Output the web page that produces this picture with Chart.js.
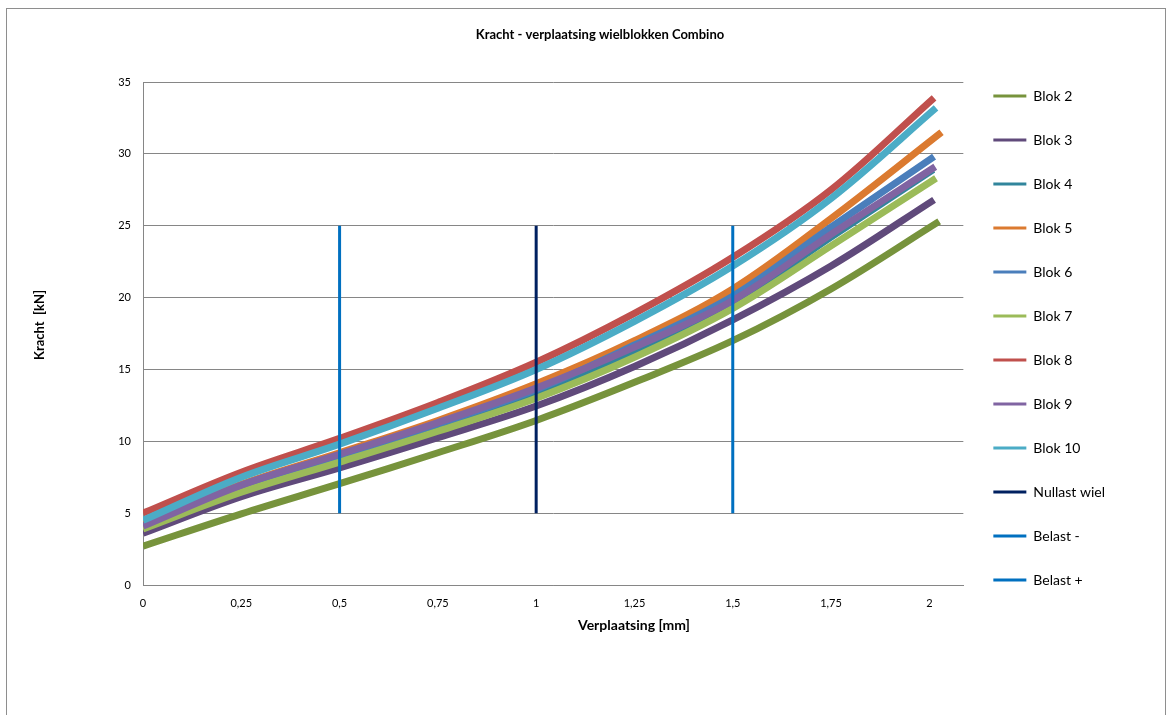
<!DOCTYPE html>
<html>
<head>
<meta charset="utf-8">
<script src="https://cdn.jsdelivr.net/npm/chart.js@4/dist/chart.umd.min.js"></script>
<style>
  html, body { margin: 0; padding: 0; background: #fff; }
  #wrap { position: relative; width: 1169px; height: 715px; overflow: hidden; }
  #rand { position: absolute; left: 6px; top: 8px; width: 1158px; height: 720px; border: 1px solid #8e8e8e; pointer-events: none; }
</style>
</head>
<body>
<div id="wrap">
  <canvas id="grafiek" width="1169" height="715"></canvas>
  <div id="rand"></div>
</div>
<script>
// teksten
const titel = 'Kracht - verplaatsing wielblokken Combino';
const xTitel = 'Verplaatsing [mm]';
const yTitel = 'Kracht  [kN]';

const verplaatsing = [0, 0.25, 0.5, 0.75, 1, 1.25, 1.5, 1.75];
const blokNamen = ['Blok 2', 'Blok 3', 'Blok 4', 'Blok 5', 'Blok 6', 'Blok 7', 'Blok 8', 'Blok 9', 'Blok 10'];
const eindVerplaatsing = [2.025, 2.012, 2.010, 2.031, 2.012, 2.017, 2.012, 2.015, 2.017];

const blok2  = [2.7, 4.95, 7.05, 9.2, 11.45, 14.1, 17.0, 20.6, 25.3];
const blok3  = [3.6, 6.15, 8.15, 10.25, 12.45, 15.2, 18.45, 22.2, 26.8];
const blok4  = [3.95, 6.8, 8.9, 11.0, 13.4, 16.3, 19.6, 24.2, 28.9];
const blok5  = [4.2, 7.0, 9.2, 11.45, 14.0, 17.0, 20.6, 25.5, 31.5];
const blok6  = [4.0, 6.85, 9.0, 11.2, 13.6, 16.7, 20.1, 24.9, 29.8];
const blok7  = [3.9, 6.45, 8.55, 10.7, 13.0, 15.85, 19.25, 23.6, 28.3];
const blok8  = [5.0, 7.85, 10.2, 12.7, 15.5, 18.9, 22.8, 27.5, 33.9];
const blok9  = [4.1, 6.95, 9.1, 11.3, 13.7, 16.55, 19.8, 24.4, 29.1];
const blok10 = [4.5, 7.5, 9.8, 12.3, 15.0, 18.35, 22.2, 26.9, 33.2];
const blokWaarden = [blok2, blok3, blok4, blok5, blok6, blok7, blok8, blok9, blok10];
const blokKleuren = ['#77933C', '#604A7B', '#31859C', '#DB7A30', '#4A7EBB', '#9BBB59', '#C0504D', '#8064A2', '#4BACC6'];

// verticale referentielijnen
const lijnNamen = ['Nullast wiel', 'Belast -', 'Belast +'];
const lijnX = [1, 0.5, 1.5];
const lijnY = [5, 25];
const lijnKleuren = ['#002060', '#0070C0', '#0070C0'];

// as-indeling
const xTicks = [0, 0.25, 0.5, 0.75, 1, 1.25, 1.5, 1.75, 2];
const xMax = 2.0865;
const yMax = 35;
const yStap = 5;

Chart.defaults.font.family = 'Lato, "Open Sans", sans-serif';
Chart.defaults.color = '#000';

const datasets = [];
blokWaarden.forEach((reeks, i) => {
  const xs = verplaatsing.concat([eindVerplaatsing[i]]);
  datasets.push({
    label: blokNamen[i],
    data: reeks.map((y, j) => ({ x: xs[j], y })),
    borderColor: blokKleuren[i],
    backgroundColor: blokKleuren[i],
    borderWidth: 7,
    pointRadius: 0,
    tension: 0.35,
  });
});
lijnNamen.forEach((naam, i) => {
  datasets.push({
    label: naam,
    data: lijnY.map(y => ({ x: lijnX[i], y })),
    borderColor: lijnKleuren[i],
    backgroundColor: lijnKleuren[i],
    borderWidth: 3,
    pointRadius: 0,
  });
});
// zoals in Excel: latere reeksen bovenop
datasets.forEach((d, i) => { d.order = -i; });

const titelPlugin = {
  id: 'titels',
  afterDraw(chart) {
    const ctx = chart.ctx;
    ctx.save();
    ctx.fillStyle = '#000';
    ctx.textAlign = 'center';
    ctx.textBaseline = 'middle';
    ctx.font = 'bold 13px Lato';
    ctx.fillText(titel, 600, 35);
    ctx.font = 'bold 14px Lato';
    ctx.fillText(xTitel, 634, 625);
    ctx.translate(40, 325);
    ctx.rotate(-Math.PI / 2);
    ctx.font = 'bold 13px Lato';
    ctx.fillText(yTitel, 0, 0);
    ctx.restore();
  }
};

new Chart(document.getElementById('grafiek'), {
  type: 'line',
  data: { datasets },
  plugins: [titelPlugin],
  options: {
    responsive: false,
    animation: false,
    events: [],
    devicePixelRatio: 1,
    layout: { padding: { left: 0, right: 54, top: 57, bottom: 96 } },
    plugins: {
      title: { display: false },
      tooltip: { enabled: false },
      legend: {
        position: 'right',
        labels: {
          font: { size: 14 },
          boxWidth: 33,
          boxHeight: 3,
          padding: 30,
          sort: (a, b) => a.datasetIndex - b.datasetIndex,
          generateLabels(chart) {
            const items = Chart.defaults.plugins.legend.labels.generateLabels(chart);
            return items.map(it => Object.assign(it, { fillStyle: it.strokeStyle, lineWidth: 0 }));
          },
        },
      },
    },
    scales: {
      x: {
        type: 'linear',
        min: 0,
        max: xMax,
        afterFit: s => { s.height = 34; },
        afterBuildTicks: s => { s.ticks = xTicks.map(v => ({ value: v })); },
        ticks: {
          font: { size: 11 },
          padding: 12,
          maxRotation: 0,
          autoSkip: false,
          callback: v => String(v).replace('.', ','),
        },
        grid: { display: false, drawTicks: false },
        border: { display: true, color: '#868686', width: 1 },
      },
      // lege bovenas: houdt ruimte vrij voor de titel boven het plotvlak
      xBoven: {
        type: 'linear',
        position: 'top',
        afterFit: s => { s.height = 25; },
        ticks: { display: false },
        grid: { display: false, drawTicks: false },
        border: { display: false },
      },
      y: {
        min: 0,
        max: yMax,
        afterFit: s => { s.width = 143; },
        ticks: { stepSize: yStap, font: { size: 11 }, padding: 12 },
        grid: { color: '#868686', drawTicks: false },
        border: { display: true, color: '#868686', width: 1 },
      },
    },
  },
});
</script>
</body>
</html>
